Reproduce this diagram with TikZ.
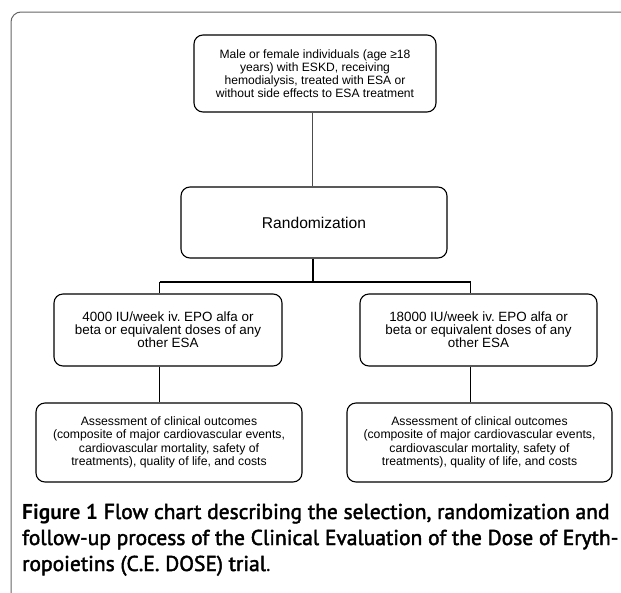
\documentclass[tikz,border=0pt]{standalone}
\usepackage{fontspec}
\setmainfont{Liberation Sans}
\newfontfamily\capfont{PT Sans}
\newfontface\capsemi[FakeBold=2]{PT Sans}
\frenchspacing
\begin{document}
\begin{tikzpicture}[x=1pt,y=-1pt,
  box/.style={draw=black,line width=1.1pt,rounded corners=9pt,align=center,inner sep=0pt},
  topfont/.style={font=\fontsize{12.1}{12.8}\selectfont},
  midfont/.style={font=\fontsize{13.4}{12.4}\selectfont},
  botfont/.style={font=\fontsize{12.2}{13.5}\selectfont},
  conn/.style={draw=black,line width=1.1pt},
  captxt/.style={anchor=base west,inner sep=0pt,font=\fontsize{21.5}{26}\capfont}]
\useasboundingbox (0,0) rectangle (621,592);
\clip (0,0) rectangle (621,592);
\fill[white] (0,0) rectangle (621,592);
\draw[draw=black!60,line width=1pt,rounded corners=10pt] (11,12) rectangle (660,640);

\node[box,topfont,minimum width=242pt,minimum height=77pt] (top) at (315,73.5)
  {Male or female individuals (age ≥18\\ years) with ESKD, receiving\\ hemodialysis, treated with ESA or\\ without side effects to ESA treatment};
\node[box,minimum width=266pt,minimum height=71pt,font=\fontsize{15.6}{18}\selectfont] (rand) at (314,222.5) {Randomization};
\node[box,midfont,minimum width=228pt,minimum height=72pt] (left) at (168,330)
  {4000 IU/week iv. EPO alfa or\\ beta or equivalent doses of any\\ other ESA};
\node[box,midfont,minimum width=237pt,minimum height=72pt] (right) at (478.5,330)
  {18000 IU/week iv. EPO alfa or\\ beta or equivalent doses of any\\ other ESA};
\node[box,botfont,minimum width=266pt,minimum height=79pt] (bl) at (169,442.5)
  {Assessment of clinical outcomes\\ (composite of major cardiovascular events,\\ cardiovascular mortality, safety of\\ treatments), quality of life, and costs};
\node[box,botfont,minimum width=265pt,minimum height=79pt] (br) at (479.5,442.5)
  {Assessment of clinical outcomes\\ (composite of major cardiovascular events,\\ cardiovascular mortality, safety of\\ treatments), quality of life, and costs};

\coordinate (j) at (313,282);
\coordinate (jl) at (159.5,282);
\coordinate (jr) at (470.5,282);
\draw[conn,draw=black!70,line width=1pt] (top.south -| 312.5,0) -- (rand.north -| 312.5,0);
\draw[conn] (rand.south -| j) -- (j);
\draw[conn] (jl) -- (jr);
\draw[conn] (jl) -- (left.north -| jl);
\draw[conn] (jr) -- (right.north -| jr);
\draw[conn] (left.south -| jl) -- (bl.north -| jl);
\draw[conn] (right.south -| jr) -- (br.north -| jr);

\node[captxt] (cap1) at (22,519) {{\bfseries Figure 1} {\capsemi Flow chart describing the selection, randomization and}};
\node[captxt] (cap2) at (22,545) {{\capsemi follow-up process of the Clinical Evaluation of the Dose of Eryth-}};
\node[captxt] (cap3) at (22,571) {{\capsemi ropoietins (C.E. DOSE) trial}.};
\end{tikzpicture}
\end{document}
